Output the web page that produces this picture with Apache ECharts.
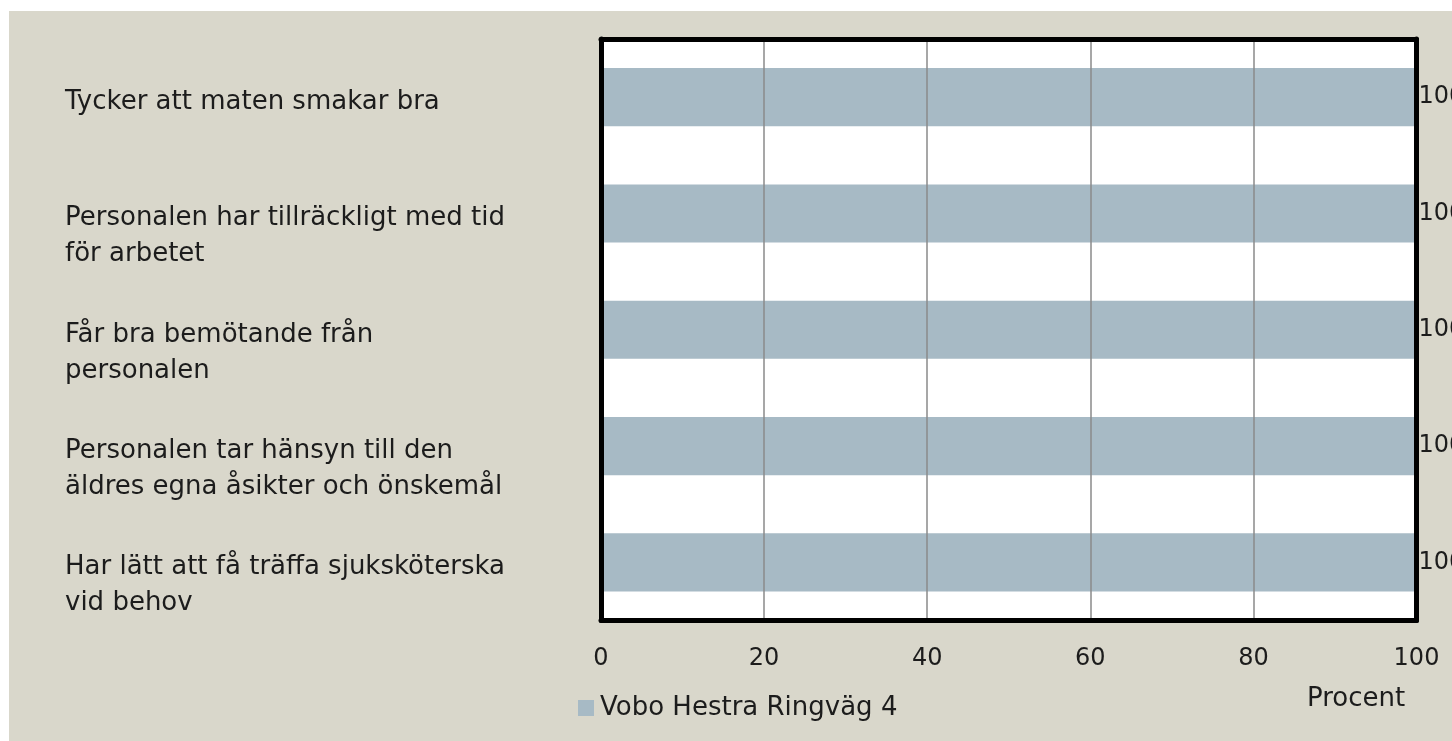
<!DOCTYPE html>
<html>
<head>
<meta charset="utf-8">
<script src="https://cdn.jsdelivr.net/npm/echarts@6/dist/echarts.min.js"></script>
<style>
html,body{margin:0;padding:0;background:#fff;}
#main{width:1452px;height:741px;}
</style>
</head>
<body>
<div id="main"></div>
<script>
// kategorier (frågor), uppifrån och ned
var categories = [
	"Tycker att maten smakar bra",
	"Personalen har tillräckligt med tid\nför arbetet",
	"Får bra bemötande från\npersonalen",
	"Personalen tar hänsyn till den\näldres egna åsikter och önskemål",
	"Har lätt att få träffa sjuksköterska\nvid behov"
];
var seriesName = "Vobo Hestra Ringväg 4";
var values = [100, 100, 100, 100, 100];
var axisTicks = [0, 20, 40, 60, 80, 100];
var axisTitle = "Procent";

var fontFam = "'DejaVu Sans', sans-serif";
var txtColor = "#1c1c1c";
var frame = { show: true, onZero: false, lineStyle: { color: '#000', width: 5 } };

var myChart = echarts.init(document.getElementById('main'));
var option = {
	animation: false,
	textStyle: { fontFamily: fontFam },
	graphic: {
		elements: [{
			type: 'rect', z: -100, silent: true,
			shape: { x: 9, y: 11, width: 1452, height: 741 },
			style: { fill: '#d9d7cb' }
		}]
	},
	title: {
		text: axisTitle,
		left: 1307, top: 686, padding: 0,
		textStyle: { fontFamily: fontFam, fontSize: 26, fontWeight: 'normal', color: txtColor }
	},
	legend: {
		left: 578, top: 695, padding: 0,
		itemWidth: 16, itemHeight: 16, itemGap: 6,
		icon: 'rect',
		textStyle: { fontFamily: fontFam, fontSize: 26, color: txtColor, padding: [0, 0, 0, 1] },
		data: [seriesName]
	},
	grid: {
		left: 601, top: 39, right: 35.5, bottom: 120.5,
		show: true, backgroundColor: '#ffffff', borderWidth: 0
	},
	xAxis: [{
		type: 'value', min: axisTicks[0], max: axisTicks[axisTicks.length - 1],
		interval: axisTicks[1] - axisTicks[0], z: 5,
		axisLine: frame, axisTick: { show: false },
		splitLine: { show: true, lineStyle: { color: '#8a8a8a', width: 1.5 } },
		axisLabel: { margin: 26, fontSize: 24, color: txtColor, fontFamily: fontFam }
	}, {
		type: 'value', position: 'top', min: axisTicks[0], max: axisTicks[axisTicks.length - 1], z: 5,
		axisLine: frame, axisTick: { show: false }, axisLabel: { show: false }, splitLine: { show: false }
	}],
	yAxis: [{
		type: 'category', inverse: true, data: categories, z: 5,
		axisLine: frame, axisTick: { show: false },
		axisLabel: {
			interval: 0, hideOverlap: false,
			align: 'left', margin: 536, verticalAlign: 'middle',
			color: txtColor, fontFamily: fontFam, fontSize: 26,
			formatter: function (v) {
				// första raden ska ligga vid stapelns mitt
				var rows = v.split("\n");
				var pre = rows.length > 1 ? "{g| }" : "{s| }";
				return pre + "\n" + rows.map(function (r) { return "{t|" + r + "}"; }).join("\n");
			},
			rich: {
				t: { fontSize: 26, lineHeight: 36, color: txtColor, fontFamily: fontFam },
				g: { fontSize: 10, lineHeight: 46 },
				s: { fontSize: 10, lineHeight: 10 }
			}
		}
	}, {
		type: 'category', inverse: true, data: categories, position: 'right', z: 5,
		axisLine: frame, axisTick: { show: false }, axisLabel: { show: false }, splitLine: { show: false }
	}],
	series: [{
		name: seriesName, type: 'bar', data: values,
		barWidth: '50%',
		itemStyle: { color: '#a7bac5' },
		label: {
			show: true, position: 'right', distance: 2,
			fontSize: 24, color: txtColor, fontFamily: fontFam
		}
	}]
};
myChart.setOption(option);
</script>
</body>
</html>
